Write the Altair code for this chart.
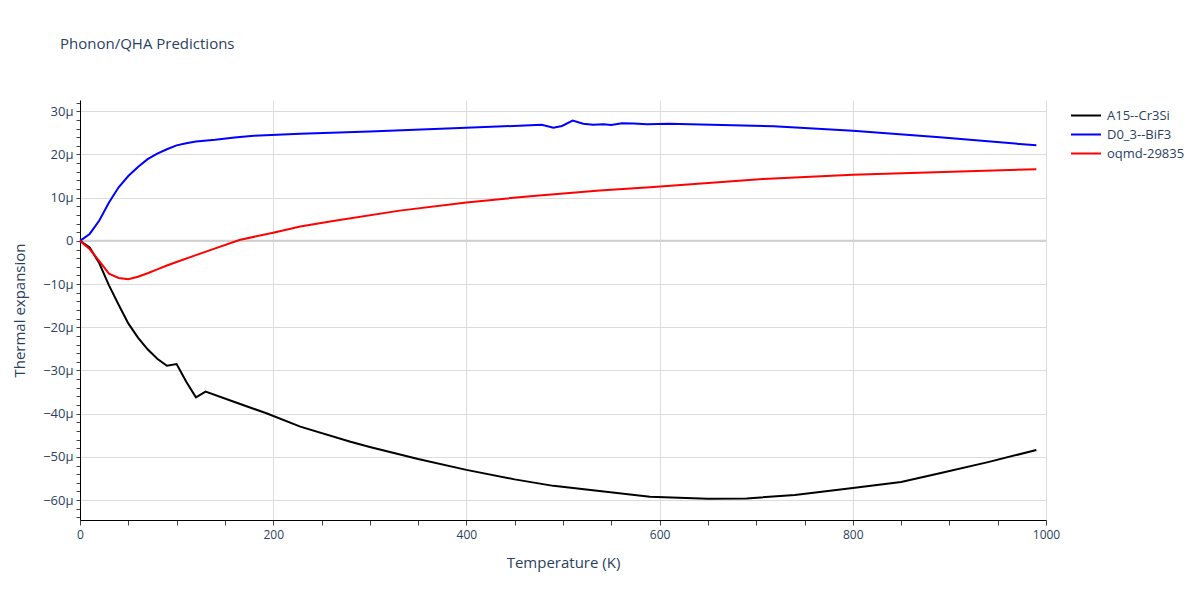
import altair as alt
import pandas as pd

# ---- data (thermal expansion in units of 1e-6 / K) ----
series_names = ["A15--Cr3Si", "D0_3--BiF3", "oqmd-29835"]
series_colors = ["#000000", "#0000ff", "#ff0000"]

a15_T = [0, 10, 20, 30, 40, 50, 60, 70, 80, 90, 100, 110, 120, 130, 160, 193, 228,
         280, 300, 350, 400, 450, 490, 590, 650, 690, 740, 800, 850, 890, 940, 990]
a15_v = [0, -1.5, -5.2, -10.3, -14.8, -19.1, -22.4, -25.1, -27.3, -28.9, -28.5, -32.6,
         -36.2, -34.9, -37.3, -39.9, -43.0, -46.5, -47.7, -50.5, -53.0, -55.2, -56.7,
         -59.2, -59.7, -59.6, -58.8, -57.2, -55.8, -53.8, -51.2, -48.4]

bif3_T = [0, 10, 20, 30, 40, 50, 60, 70, 80, 90, 100, 110, 120, 140, 160, 180, 228,
          300, 393, 478, 490, 499, 510, 521, 531, 542, 550, 561, 573, 587, 610, 718,
          800, 890, 990]
bif3_v = [0, 1.6, 4.7, 8.9, 12.4, 15.0, 17.1, 18.9, 20.2, 21.2, 22.1, 22.6, 23.0, 23.4,
          23.9, 24.3, 24.8, 25.3, 26.1, 26.85, 26.2, 26.6, 27.85, 27.1, 26.85, 27.0,
          26.8, 27.2, 27.15, 27.0, 27.1, 26.5, 25.5, 24.0, 22.1]

oqmd_T = [0, 10, 20, 30, 40, 50, 60, 70, 80, 90, 100, 120, 140, 165, 200, 228, 262,
          331, 400, 469, 538, 590, 707, 800, 990]
oqmd_v = [0, -1.9, -4.7, -7.6, -8.6, -8.9, -8.3, -7.5, -6.6, -5.7, -4.9, -3.3, -1.75,
          0.2, 1.9, 3.3, 4.6, 7.0, 8.9, 10.4, 11.65, 12.4, 14.3, 15.3, 16.6]

rows = []
for name, Ts, vs in zip(series_names, [a15_T, bif3_T, oqmd_T], [a15_v, bif3_v, oqmd_v]):
    for t, v in zip(Ts, vs):
        rows.append({"series": name, "T": t, "v": v})
df = pd.DataFrame(rows)

FONT = "Open Sans"
TXT = "#2a3f5f"

x_axis = alt.Axis(
    values=list(range(0, 1001, 50)),
    labelExpr="datum.value % 200 === 0 ? datum.label : ''",
    format="d",
    labelFlush=False,
    labelOverlap=False,
    gridOpacity={"condition": {"test": "datum.value % 200 === 0", "value": 1}, "value": 0},
    gridColor="#dcdcdc",
    tickSize=5,
    tickColor="#444444",
    domainColor="#000000",
    labelPadding=4,
    titlePadding=15,
    labelFontSize=12,
    titleFontSize=15,
    labelColor=TXT,
    titleColor=TXT,
    labelFont=FONT,
    titleFont=FONT,
    titleFontWeight="normal",
)

y_axis = alt.Axis(
    values=list(range(-64, 33, 2)),
    labelExpr="datum.value % 10 === 0 ? (datum.value === 0 ? '0' : (datum.value < 0 ? '\u2212' : '') + abs(datum.value) + '\u00b5') : ''",
    labelFlush=False,
    labelOverlap=False,
    gridOpacity={"condition": {"test": "datum.value % 10 === 0", "value": 1}, "value": 0},
    gridColor="#dcdcdc",
    tickSize=4,
    tickColor="#444444",
    domainColor="#000000",
    labelPadding=3,
    titlePadding=15,
    labelFontSize=13,
    titleFontSize=15,
    labelColor=TXT,
    titleColor=TXT,
    labelFont=FONT,
    titleFont=FONT,
    titleFontWeight="normal",
)

y_scale = alt.Scale(domain=[-64.6, 32.6], nice=False, zero=False)

zero = alt.Chart(pd.DataFrame({"v": [0]})).mark_rule(color="#d0d0d0", strokeWidth=2).encode(
    y=alt.Y("v:Q", title="Thermal expansion", scale=y_scale, axis=y_axis)
)

lines = alt.Chart(df).mark_line(strokeWidth=2).encode(
    x=alt.X("T:Q", title="Temperature (K)",
            scale=alt.Scale(domain=[0, 1000], nice=False, zero=False), axis=x_axis),
    y=alt.Y("v:Q", title="Thermal expansion", scale=y_scale, axis=y_axis),
    color=alt.Color(
        "series:N",
        scale=alt.Scale(domain=series_names, range=series_colors),
        legend=alt.Legend(
            title=None, orient="none", legendX=990, legendY=8,
            symbolType="stroke", symbolSize=900, symbolStrokeWidth=2,
            clipHeight=15, rowPadding=4,
            labelFontSize=13, labelColor=TXT, labelFont=FONT, labelOffset=5,
        ),
    ),
)

chart = alt.layer(zero, lines).properties(
    width=966,
    height=420,
    autosize="none",
    padding={"left": 72, "top": 92, "right": 146, "bottom": 72},
    title=alt.TitleParams(
        "Phonon/QHA Predictions", anchor="start", frame="group", dx=-20, offset=45,
        fontSize=15, font=FONT, color=TXT, fontWeight="normal",
    ),
).configure(background="white", view=alt.ViewConfig(stroke=None))

chart.save("out.html", embed_options={"renderer": "svg", "actions": False})
